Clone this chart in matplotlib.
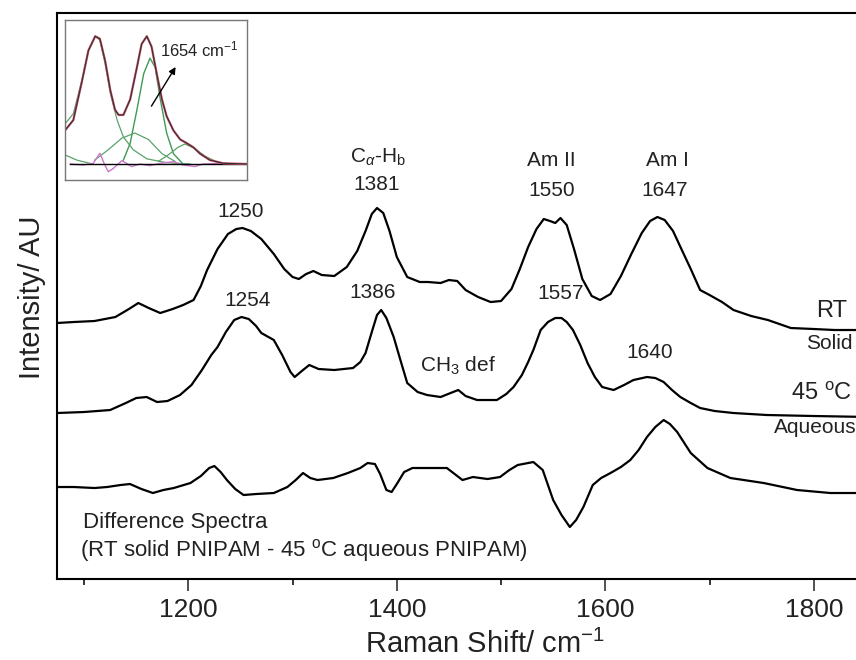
import numpy as np
import matplotlib
matplotlib.use("Agg")
import matplotlib.pyplot as plt
from matplotlib.ticker import MultipleLocator

plt.rcParams['font.family'] = ['Liberation Sans', 'DejaVu Sans']
plt.rcParams['mathtext.fontset'] = 'custom'
plt.rcParams['mathtext.rm'] = 'Liberation Sans'
plt.rcParams['mathtext.it'] = 'Liberation Sans:italic'
plt.rcParams['mathtext.bf'] = 'Liberation Sans:bold'

# ---- main spectra (Raman shift, intensity in AU) ----
rt_x = [1074, 1090, 1110, 1130, 1143, 1152, 1162, 1173, 1185, 1195, 1205, 1212, 1218,
        1228, 1238, 1246, 1252, 1260, 1270, 1282, 1292, 1300, 1306, 1313, 1320, 1328,
        1340, 1352, 1362, 1370, 1376, 1381, 1387, 1393, 1400, 1410, 1422, 1430, 1442,
        1450, 1458, 1466, 1478, 1490, 1500, 1510, 1518, 1526, 1534, 1541, 1547, 1552,
        1557, 1563, 1570, 1578, 1587, 1595, 1605, 1615, 1625, 1635, 1643, 1650, 1657,
        1665, 1673, 1682, 1691, 1700, 1712, 1723, 1740, 1756, 1778, 1800, 1820, 1854]
rt_y = [256, 257, 258, 262, 270, 276, 271, 266, 270, 274, 279, 293, 309,
        330, 345, 350, 351, 348, 340, 325, 310, 302, 300, 305, 308, 304,
        303, 312, 328, 348, 365, 371, 366, 348, 322, 302, 297, 297, 296,
        299, 298, 289, 282, 277, 278, 290, 310, 332, 350, 360, 358, 356,
        361, 354, 330, 300, 283, 279, 285, 303, 325, 346, 358, 362, 359,
        348, 330, 310, 289, 284, 277, 269, 263, 259, 251, 250, 249, 249]

aq_x = [1074, 1100, 1125, 1140, 1150, 1160, 1170, 1180, 1192, 1203, 1213, 1222, 1228,
        1236, 1244, 1251, 1258, 1265, 1270, 1282, 1290, 1298, 1302, 1310, 1316, 1325,
        1340, 1358, 1365, 1370, 1376, 1381, 1385, 1390, 1397, 1404, 1410, 1420, 1429,
        1442, 1454, 1459, 1466, 1477, 1496, 1505, 1512, 1520, 1526, 1531, 1538, 1545,
        1552, 1558, 1563, 1569, 1576, 1583, 1590, 1597, 1608, 1618, 1627, 1640, 1648,
        1656, 1664, 1672, 1682, 1691, 1705, 1723, 1755, 1800, 1854]
aq_y = [166, 167, 169, 176, 181, 182, 177, 178, 184, 194, 209, 224, 232,
        247, 259, 262, 260, 253, 246, 239, 224, 207, 202, 209, 214, 210,
        209, 211, 217, 226, 247, 264, 269, 261, 242, 217, 196, 187, 184,
        182, 187, 189, 183, 179, 179, 185, 192, 204, 217, 229, 249, 257,
        261, 261, 257, 249, 234, 216, 202, 192, 189, 194, 199, 202, 201,
        197, 189, 182, 176, 171, 168, 166, 164, 163, 162]

diff_x = [1074, 1090, 1110, 1122, 1135, 1144, 1155, 1166, 1176, 1186, 1202, 1212, 1220,
          1225, 1231, 1237, 1245, 1253, 1265, 1282, 1295, 1303, 1310, 1317, 1324, 1339,
          1353, 1365, 1372, 1379, 1384, 1390, 1395, 1400, 1407, 1415, 1432, 1448, 1463,
          1473, 1487, 1499, 1508, 1516, 1531, 1540, 1550, 1558, 1566, 1572, 1579, 1588,
          1596, 1605, 1615, 1624, 1632, 1640, 1648, 1656, 1662, 1669, 1682, 1698, 1720,
          1752, 1784, 1816, 1854]
diff_y = [92, 92, 91, 92, 94, 95, 90, 86, 89, 91, 96, 103, 111,
          113, 107, 99, 90, 84, 85, 86, 92, 99, 106, 101, 99, 101,
          106, 111, 116, 115, 105, 89, 87, 95, 107, 111, 111, 111, 99,
          102, 100, 102, 109, 114, 117, 109, 79, 64, 52, 59, 72, 94,
          101, 106, 112, 119, 129, 142, 152, 159, 155, 147, 126, 111, 101,
          96, 89, 86, 86]

# ---- inset: curve fit of the amide region ----
fit_x = [1497, 1513, 1529, 1542, 1555, 1564, 1574, 1584, 1593, 1600, 1609, 1622, 1635,
         1644, 1654, 1663, 1673, 1683, 1692, 1705, 1718, 1731, 1743, 1756, 1775, 1801, 1846]
fit_y = [0.26, 0.34, 0.63, 0.88, 0.99, 0.97, 0.80, 0.57, 0.42, 0.38, 0.38, 0.50, 0.75,
         0.93, 0.99, 0.91, 0.70, 0.50, 0.37, 0.26, 0.19, 0.16, 0.13, 0.08, 0.03, 0.005, 0.0]
g1_x = [1497, 1513, 1529, 1542, 1555, 1564, 1574, 1584, 1597, 1609, 1628, 1654, 1692, 1737]
g1_y = [0.31, 0.39, 0.64, 0.88, 0.99, 0.96, 0.78, 0.55, 0.34, 0.21, 0.11, 0.04, 0.01, 0.0]
g2_x = [1609, 1622, 1635, 1648, 1660, 1670, 1679, 1692, 1705, 1721]
g2_y = [0.03, 0.16, 0.42, 0.70, 0.82, 0.75, 0.52, 0.24, 0.08, 0.01]
g3_x = [1554, 1580, 1606, 1631, 1657, 1683, 1708]
g3_y = [0.03, 0.11, 0.20, 0.24, 0.19, 0.08, 0.02]
g4_x = [1676, 1695, 1714, 1727, 1746, 1766, 1791]
g4_y = [0.02, 0.07, 0.13, 0.155, 0.12, 0.06, 0.01]
g5_x = [1497, 1520, 1545]
g5_y = [0.07, 0.03, 0.005]
res_x = [1507, 1532, 1551, 1564, 1572, 1580, 1590, 1606, 1615, 1625, 1641, 1660, 1679,
         1705, 1724, 1746, 1762, 1801, 1846]
res_y = [0.0, -0.008, 0.005, 0.083, 0.005, -0.06, -0.034, 0.026, 0.005, -0.02, 0.0,
         -0.013, 0.005, 0.018, -0.008, -0.02, 0.0, 0.005, 0.0]

fig = plt.figure(figsize=(8.56, 6.60), dpi=100)
ax = fig.add_axes([0.0666, 0.1227, 0.9498, 0.8576])

ax.plot(rt_x, rt_y, color='black', lw=1.6)
ax.plot(aq_x, aq_y, color='black', lw=1.6)
ax.plot(diff_x, diff_y, color='black', lw=1.6)

ax.set_xlim(1074, 1854)
ax.set_ylim(0, 566)
ax.xaxis.set_major_locator(MultipleLocator(200))
ax.xaxis.set_minor_locator(MultipleLocator(100))
ax.set_yticks([])
ax.tick_params(axis='x', which='major', direction='out', length=8.6, width=1.1,
               labelsize=19, pad=5, colors='#222222')
ax.tick_params(axis='x', which='minor', direction='out', length=4.3, width=1.1)
for s in ax.spines.values():
    s.set_linewidth(1.5)
ax.spines['right'].set_visible(False)

ax.set_xlabel('Raman Shift/ cm$^{-1}$', fontsize=21, color='#222222')
ax.xaxis.set_label_coords(0.526, -0.09)
fig.text(0.037, 0.55, 'Intensity/ AU', rotation=90, fontsize=21, color='#222222',
         ha='center', va='center')

tc = '#222222'
ax.text(1250, 368, '1250', fontsize=15, ha='center', va='center', color=tc)
ax.text(1382, 422, r'C$_\alpha$-H$_\mathrm{b}$', fontsize=15, ha='center', va='center', color=tc)
ax.text(1381, 395, '1381', fontsize=15, ha='center', va='center', color=tc)
ax.text(1548, 419, 'Am II', fontsize=15, ha='center', va='center', color=tc)
ax.text(1549, 389, '1550', fontsize=15, ha='center', va='center', color=tc)
ax.text(1660, 419, 'Am I', fontsize=15, ha='center', va='center', color=tc)
ax.text(1657, 389, '1647', fontsize=15, ha='center', va='center', color=tc)
ax.text(1257, 279, '1254', fontsize=15, ha='center', va='center', color=tc)
ax.text(1377, 287, '1386', fontsize=15, ha='center', va='center', color=tc)
ax.text(1557, 286, '1557', fontsize=15, ha='center', va='center', color=tc)
ax.text(1422, 213, r'CH$_3$ def', fontsize=15, ha='left', va='center', color=tc)
ax.text(1643, 227, '1640', fontsize=15, ha='center', va='center', color=tc)
ax.text(1832, 268, 'RT', fontsize=17, ha='right', va='center', color=tc)
ax.text(1837, 236, 'Solid', fontsize=15, ha='right', va='center', color=tc)
ax.text(1837, 185, r'45 $^\mathrm{o}$C', fontsize=17, ha='right', va='center', color=tc)
ax.text(1841, 152, 'Aqueous', fontsize=15, ha='right', va='center', color=tc)
ax.text(1099, 57, 'Difference Spectra', fontsize=16, ha='left', va='center', color=tc)
ax.text(1096, 29, r'(RT solid PNIPAM - 45 $^\mathrm{o}$C aqueous PNIPAM)', fontsize=16,
        ha='left', va='center', color=tc)

# inset
ins = fig.add_axes([0.0759, 0.7273, 0.2126, 0.2424])
ins.plot(g5_x, g5_y, color='#5aa36a', lw=0.9)
ins.plot(g1_x, g1_y, color='#5aa36a', lw=0.9)
ins.plot(g2_x, g2_y, color='#3f9a55', lw=1.0)
ins.plot(g3_x, g3_y, color='#5aa36a', lw=0.9)
ins.plot(g4_x, g4_y, color='#5aa36a', lw=0.9)
ins.plot(res_x, res_y, color='#cc77cc', lw=1.0)
ins.plot([1507, 1846], [0, 0], color='black', lw=1.0)
ins.plot(fit_x, fit_y, color='#d0506a', lw=1.6)
ins.plot(fit_x, fit_y, color='#333333', lw=0.8)
ins.annotate('', xy=(1712, 0.77), xytext=(1660, 0.43),
             arrowprops=dict(arrowstyle='-|>', color='black', lw=1.0, mutation_scale=10))
ins.text(1680, 0.89, '1654 cm$^{-1}$', fontsize=12, ha='left', va='center', color=tc)
ins.set_xlim(1497, 1846)
ins.set_ylim(-0.124, 1.116)
ins.set_xticks([])
ins.set_yticks([])
for s in ins.spines.values():
    s.set_color('#777777')
    s.set_linewidth(1.0)

fig.savefig('out.png', dpi=100)
